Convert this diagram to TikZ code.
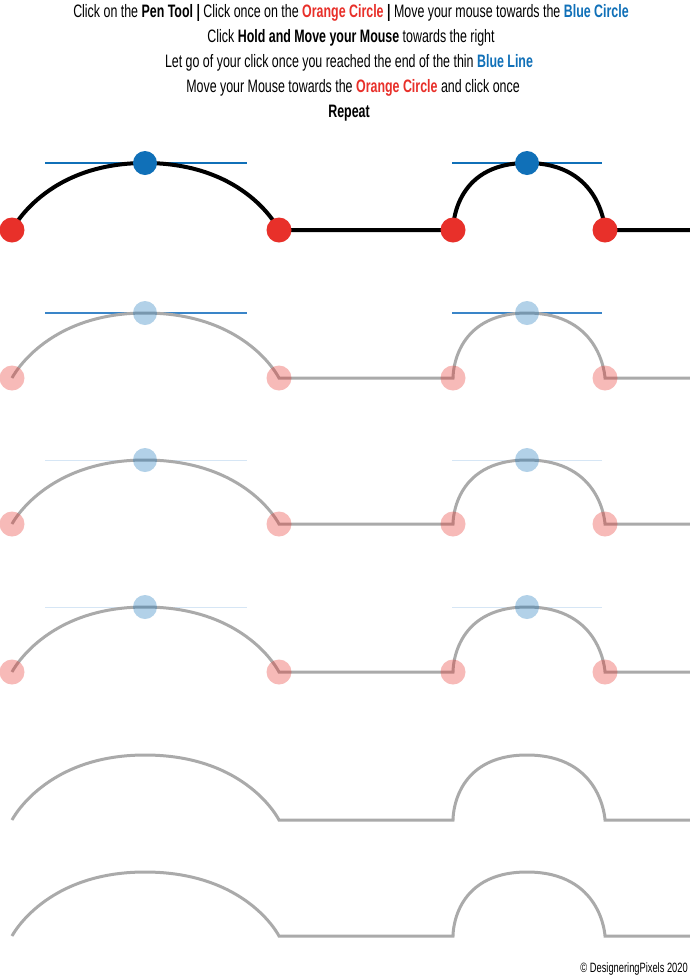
\documentclass[tikz,border=0pt]{standalone}
\usepackage{fontspec}
\setmainfont{Liberation Sans}[FakeStretch=0.69]
\definecolor{pred}{HTML}{E8302A}
\definecolor{pblue}{HTML}{1070B8}
\definecolor{pgray}{HTML}{AAAAAA}
\definecolor{faintblue}{HTML}{D6E6F5}
\definecolor{midblue}{HTML}{3A85C8}
\tikzset{
  txt/.style={inner sep=0pt, anchor=center, font=\fontsize{18}{20}\selectfont},
  redpt/.style={circle, fill=pred, minimum size=25pt, inner sep=0pt},
  bluept/.style={circle, fill=pblue, minimum size=24pt, inner sep=0pt},
  redfade/.style={circle, fill=pred, fill opacity=0.33, minimum size=25pt, inner sep=0pt},
  bluefade/.style={circle, fill=pblue, fill opacity=0.32, minimum size=24pt, inner sep=0pt},
  blackpath/.style={draw=black, line width=4pt, line join=miter},
  graypath/.style={draw=pgray, line width=3pt, line join=miter},
  handle/.style={draw=pblue, line width=1.5pt},
  handlemid/.style={draw=midblue, line width=2pt},
  handlefaint/.style={draw=faintblue, line width=1pt},
}
% #1 row id, #2 baseline y, #3 top y
\newcommand\rowcoords[3]{%
  \coordinate (#1s) at (12,#2);
  \coordinate (#1c1) at (45,#3);
  \coordinate (#1t1) at (145,#3);
  \coordinate (#1d1) at (247,#3);
  \coordinate (#1e) at (279,#2);
  \coordinate (#1f) at (453,#2);
  \coordinate (#1c2) at (452,#3);
  \coordinate (#1t2) at (527,#3);
  \coordinate (#1d2) at (602,#3);
  \coordinate (#1g) at (605,#2);
  \coordinate (#1h) at (690,#2);
}
\newcommand\rowpath[2]{%
  \path[#2] (#1s) .. controls (#1s) and (#1c1) .. (#1t1)
    .. controls (#1d1) and (#1e) .. (#1e) -- (#1f)
    .. controls (#1f) and (#1c2) .. (#1t2)
    .. controls (#1d2) and (#1g) .. (#1g) -- (#1h);
}
\begin{document}
\begin{tikzpicture}[x=1pt,y=-1pt]
\useasboundingbox[fill=white] (0,0) rectangle (690,978);
% header text
\node[txt] (l1) at (351,13) {Click on the \textbf{Pen Tool |} Click once on the \textcolor{pred}{\textbf{Orange Circle}} \textbf{|} Move your mouse towards the \textcolor{pblue}{\textbf{Blue Circle}}};
\node[txt] (l2) at (351,38) {Click \textbf{Hold and Move your Mouse} towards the right};
\node[txt] (l3) at (349,63) {Let go of your click once you reached the end of the thin \textcolor{pblue}{\textbf{Blue Line}}};
\node[txt] (l4) at (353,88) {Move your Mouse towards the \textcolor{pred}{\textbf{Orange Circle}} and click once};
\node[txt] (l5) at (349,113) {\textbf{Repeat}};
% row 1
\rowcoords{a}{230}{163}
\draw[handle] (ac1) -- (ad1);
\draw[handle] (ac2) -- (ad2);
\rowpath{a}{blackpath}
\node[redpt] (ar1) at (as) {};
\node[redpt] (ar2) at (ae) {};
\node[redpt] (ar3) at (af) {};
\node[redpt] (ar4) at (ag) {};
\node[bluept] (ab1) at (at1) {};
\node[bluept] (ab2) at (at2) {};
% rows 2-4
\rowcoords{b}{378}{313}
\rowcoords{c}{524}{460}
\rowcoords{d}{672}{607}
\draw[handlemid] (bc1) -- (bd1);
\draw[handlemid] (bc2) -- (bd2);
\draw[handlefaint] (cc1) -- (cd1);
\draw[handlefaint] (cc2) -- (cd2);
\draw[handlefaint] (dc1) -- (dd1);
\draw[handlefaint] (dc2) -- (dd2);
\foreach \r in {b,c,d}{
  \rowpath{\r}{graypath}
  \node[redfade] (\r r1) at (\r s) {};
  \node[redfade] (\r r2) at (\r e) {};
  \node[redfade] (\r r3) at (\r f) {};
  \node[redfade] (\r r4) at (\r g) {};
  \node[bluefade] (\r b1) at (\r t1) {};
  \node[bluefade] (\r b2) at (\r t2) {};
}
% rows 5-6
\rowcoords{e}{820}{755}
\rowcoords{f}{936}{872}
\rowpath{e}{graypath}
\rowpath{f}{graypath}
% copyright
\node[inner sep=0pt, anchor=east, font=\fontsize{13.5}{15}\selectfont] (cp) at (688,969) {© DesigneringPixels 2020};
\end{tikzpicture}
\end{document}
